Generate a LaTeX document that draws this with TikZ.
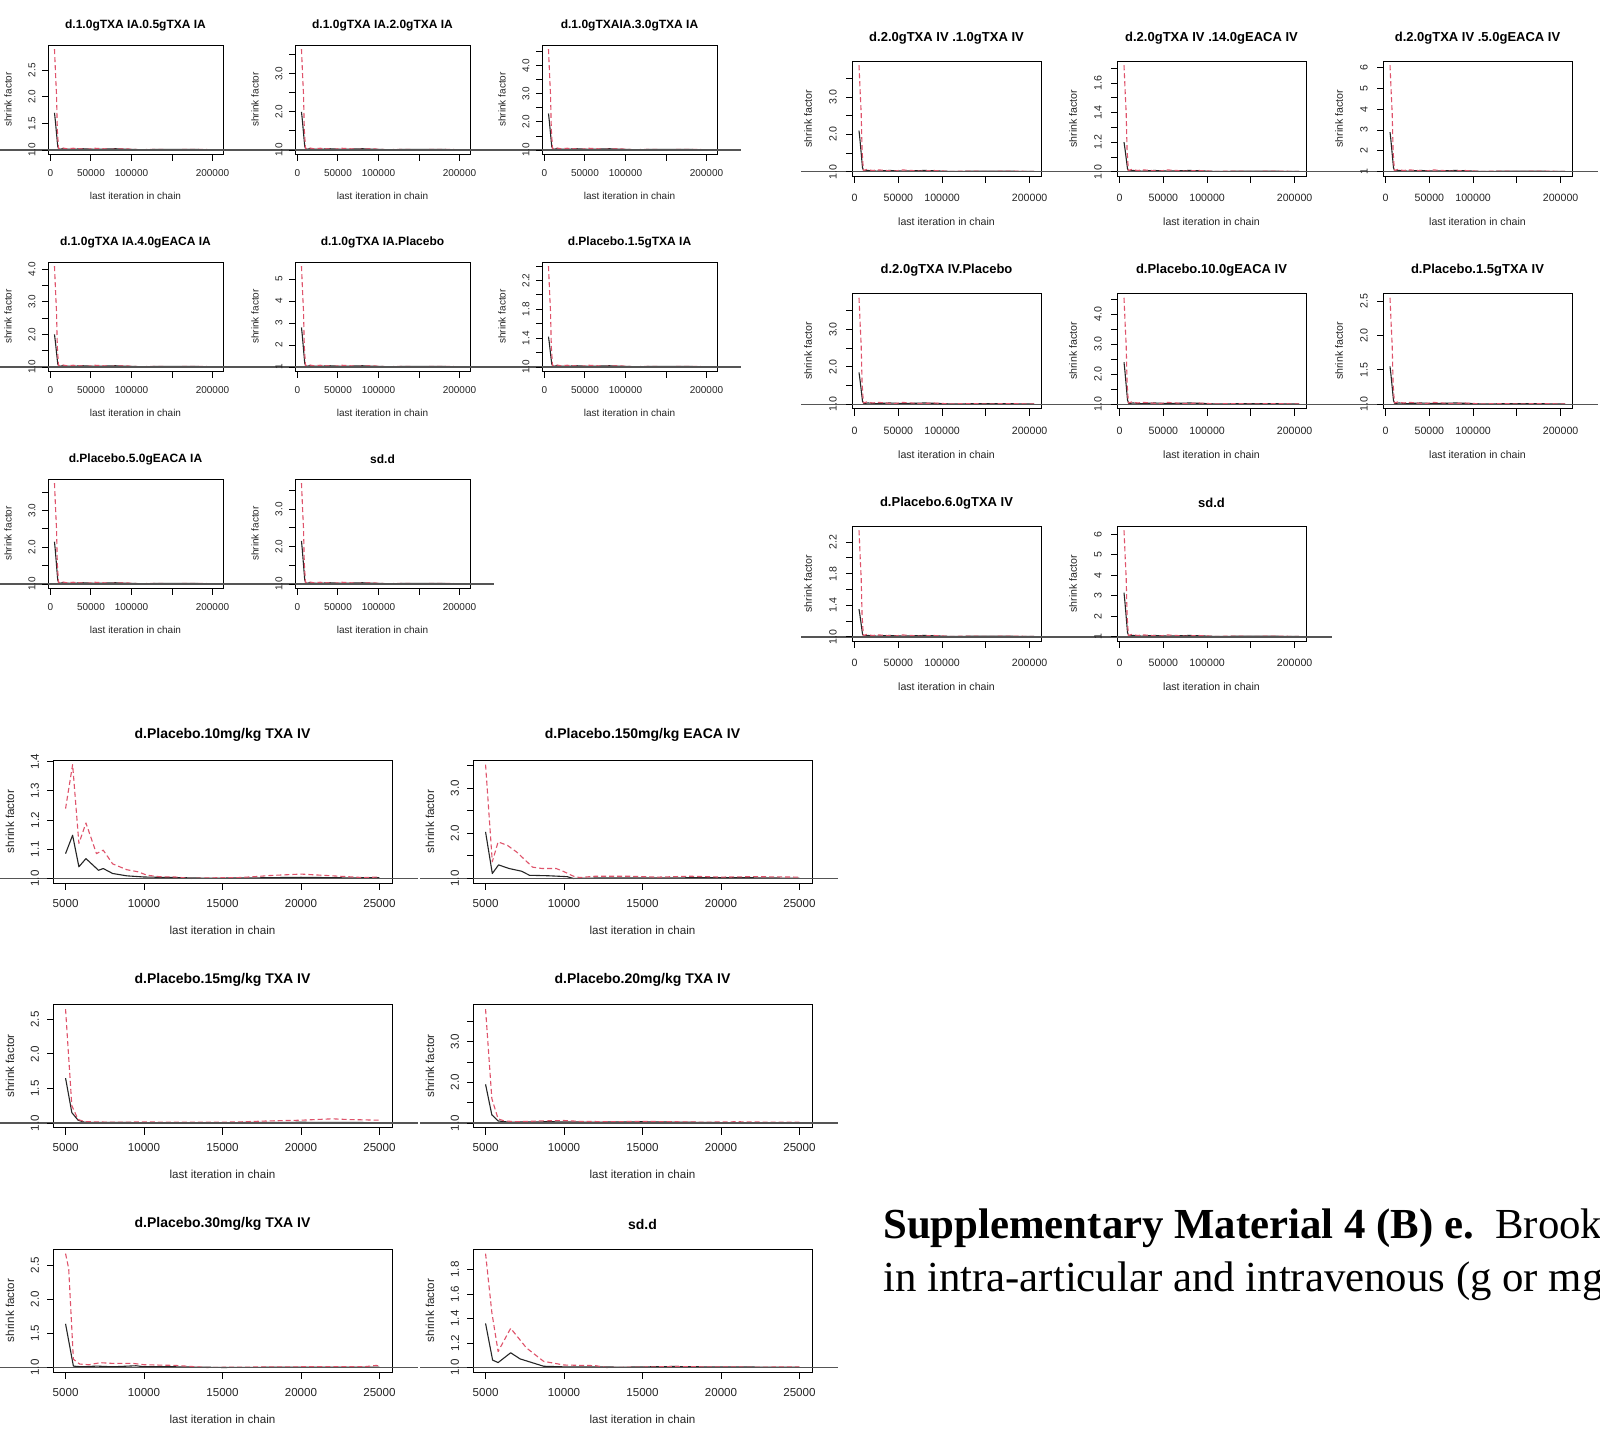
\documentclass[tikz,border=0pt]{standalone}
\usepackage{fontspec}
\setmainfont{Liberation Serif}
\setsansfont{Liberation Sans}
\usetikzlibrary{calc,positioning}
\definecolor{upred}{HTML}{DF536B}
\definecolor{onegray}{HTML}{555555}
\tikzset{
	%Define style for the plot frames
	plotbox/.style={draw=black, line width=1pt, inner sep=0pt, outer sep=0pt, anchor=north west},
	% Define line styles
	oneline/.style={draw=onegray, line width=1.5pt},
	medline/.style={draw=black!85, line width=1.1pt, line join=round},
	upline/.style={draw=upred, line width=1.1pt, line join=round, dash pattern=on 5pt off 3pt},
	tickline/.style={draw=black, line width=0.9pt},
	% Define text styles
	ptitle/.style={font=\sffamily\bfseries\fontsize{\gpTfs}{\gpTfs}\selectfont, inner sep=0pt},
	ticklab/.style={font=\sffamily\fontsize{\gpLfs}{\gpLfs}\selectfont, inner sep=0pt, text=black!85},
	axlab/.style={ticklab},
	captext/.style={font=\fontsize{42.8}{53}\selectfont, anchor=base west, inner sep=0pt}
}
% curves of a fast-converging chain: #1 upper value at start, #2 median at start
\newcommand{\mkcurves}[2]{%
	\pgfmathsetmacro\cvR{#1-1}%
	\pgfmathsetmacro\cvB{#2-1}%
	\pgfmathsetmacro\cvUa{1+0.72*\cvR}%
	\pgfmathsetmacro\cvUb{1+0.55*\cvR}%
	\pgfmathsetmacro\cvUc{1+0.2*\cvR}%
	\pgfmathsetmacro\cvMa{1+0.8*\cvB}%
	\pgfmathsetmacro\cvMb{1+0.45*\cvB}%
	\pgfmathsetmacro\cvMc{1+0.1*\cvB}%
	\pgfmathsetmacro\cvTa{1+0.022*\cvR}%
	\pgfmathsetmacro\cvTb{1+0.012*\cvR}%
	\pgfmathsetmacro\cvTc{1+0.017*\cvR}%
	\pgfmathsetmacro\cvTd{1+0.006*\cvR}%
	\pgfmathsetmacro\cvTe{1+0.003*\cvR}%
	\edef\upc{(5,#1) (6.5,\cvUa) (7.5,\cvUb) (8.5,\cvUc) (10,\cvTb) (14,\cvTa) (20,\cvTb) (28,\cvTc) (36,\cvTb) (45,\cvTd) (55,\cvTc) (65,\cvTb) (75,\cvTd) (90,\cvTb) (110,\cvTe) (130,\cvTd) (150,\cvTe) (175,\cvTd) (205,\cvTe)}%
	\edef\medc{(5,#2) (6,\cvMa) (7.5,\cvMb) (9,\cvMc) (10.5,\cvTd) (15,\cvTb) (25,\cvTd) (40,\cvTb) (55,\cvTd) (80,\cvTb) (110,\cvTe) (150,\cvTd) (205,\cvTe)}%
}
% one shrink factor plot
% #1 name, #2 left, #3 top, #4 y max, #5 title, #6 y ticks, #7 y labels, #8 upper curve, #9 median curve
\newcommand{\gpanel}[9]{%
	\pgfmathsetmacro\gpR{#4-1}%
	\pgfmathsetmacro\gpYs{\gpH/(1.08*\gpR)}%
	\pgfmathsetmacro\gpYo{#3+\gpH-0.04*\gpH/1.08}%
	\pgfmathsetmacro\gpXs{\gpW/(1.08*(\gpXhi-\gpXlo))}%
	\pgfmathsetmacro\gpXo{#2+\gpXs*(0.04*(\gpXhi-\gpXlo)-\gpXlo)}%
	% frame
	\node[plotbox, minimum width=\gpW pt, minimum height=\gpH pt] (#1) at (#2,#3) {};
	% curves
	\begin{scope}[shift={(\gpXo,\gpYo+\gpYs)}, xscale=\gpXs, yscale=-\gpYs]
		\edef\gpTmp{\noexpand\draw[medline] plot coordinates {#9};}\gpTmp
		\edef\gpTmp{\noexpand\draw[upline] plot coordinates {#8};}\gpTmp
	\end{scope}
	% line at 1
	\coordinate (#1-l) at (#2-\gpPadL,\gpYo);
	\coordinate (#1-r) at (#2-\gpPadL+\gpPadW,\gpYo);
	\draw[oneline] (#1-l) -- (#1-r);
	% axes
	\foreach \k in \gpXtk {\pgfmathsetmacro\gpPx{\gpXo+\gpXs*\k}\draw[tickline] (\gpPx,#3+\gpH) -- ++(0,7);}
	\foreach \k/\lab in \gpXtl {\pgfmathsetmacro\gpPx{\gpXo+\gpXs*\k}\node[ticklab] (#1-x\k) at (\gpPx,#3+\gpH+\gpXtd) {\lab};}
	\foreach \v in {#6} {\pgfmathsetmacro\gpPy{\gpYo-\gpYs*(\v-1)}\draw[tickline] (#2,\gpPy) -- ++(-6,0);}
	\foreach \v/\lab [count=\i] in {#7} {\pgfmathsetmacro\gpPy{\gpYo-\gpYs*(\v-1)}\node[ticklab, rotate=90] (#1-y\i) at (#2-\gpYtd,\gpPy) {\lab};}
	% labels
	\node[ptitle] (#1-t) at ($(#1.north)+(0,-\gpTd)$) {#5};
	\node[axlab] (#1-xl) at ($(#1.south)+(0,\gpXld)$) {last iteration in chain};
	\node[axlab, rotate=90] (#1-yl) at ($(#1.west)+(-\gpYld,0)$) {shrink factor};
}
\newcommand{\spanel}[8]{\mkcurves{#4}{#5}\gpanel{#1}{#2}{#3}{#4}{#6}{#7}{#8}{\upc}{\medc}}

\begin{document}
\begin{tikzpicture}[x=1pt, y=-1pt]
	\useasboundingbox (0,0) rectangle (1600,1428);
	\fill[white] (0,0) rectangle (1600,1428);
	% intra-articular plots
	\def\gpW{175}\def\gpH{109}\def\gpXlo{5}\def\gpXhi{205}
	\def\gpPadL{48}\def\gpPadW{247}\def\gpTfs{12}\def\gpLfs{10}
	\def\gpTd{20}\def\gpXtd{19}\def\gpXld{42}\def\gpYtd{16}\def\gpYld{40}
	\def\gpXtk{0,50,100,150,200}\def\gpXtl{0/0,50/50000,100/100000,200/200000}
	\spanel{a1}{48}{45}{2.9}{1.7}{d.1.0gTXA IA.0.5gTXA IA}{1.0,1.5,2.0,2.5}{1.0/1.0,1.5/1.5,2.0/2.0,2.5/2.5}
	\spanel{a2}{295}{45}{3.65}{2.0}{d.1.0gTXA IA.2.0gTXA IA}{1.0,1.5,2.0,2.5,3.0,3.5}{1.0/1.0,2.0/2.0,3.0/3.0}
	\spanel{a3}{542}{45}{4.6}{2.3}{d.1.0gTXAIA.3.0gTXA IA}{1.0,1.5,2.0,2.5,3.0,3.5,4.0,4.5}{1.0/1.0,2.0/2.0,3.0/3.0,4.0/4.0}
	\spanel{a4}{48}{262}{4.1}{2.0}{d.1.0gTXA IA.4.0gEACA IA}{1.0,1.5,2.0,2.5,3.0,3.5,4.0}{1.0/1.0,2.0/2.0,3.0/3.0,4.0/4.0}
	\spanel{a5}{295}{262}{5.6}{2.8}{d.1.0gTXA IA.Placebo}{1,2,3,4,5}{1/1,2/2,3/3,4/4,5/5}
	\spanel{a6}{542}{262}{2.4}{1.42}{d.Placebo.1.5gTXA IA}{1.0,1.2,1.4,1.6,1.8,2.0,2.2,2.4}{1.0/1.0,1.4/1.4,1.8/1.8,2.2/2.2}
	\spanel{a7}{48}{479}{3.75}{2.15}{d.Placebo.5.0gEACA IA}{1.0,1.5,2.0,2.5,3.0,3.5}{1.0/1.0,2.0/2.0,3.0/3.0}
	\spanel{a8}{295}{479}{3.7}{2.15}{sd.d}{1.0,1.5,2.0,2.5,3.0,3.5}{1.0/1.0,2.0/2.0,3.0/3.0}
	% intravenous plots (g)
	\def\gpW{189}\def\gpH{115}
	\def\gpPadL{51}\def\gpPadW{266}\def\gpTfs{13}\def\gpLfs{10.6}
	\def\gpTd{23}\def\gpXtd{22}\def\gpXld{46}\def\gpYtd{19}\def\gpYld{44}
	\spanel{b1}{852}{61}{3.85}{2.1}{d.2.0gTXA IV .1.0gTXA IV}{1.0,1.5,2.0,2.5,3.0,3.5}{1.0/1.0,2.0/2.0,3.0/3.0}
	\spanel{b2}{1117}{61}{1.72}{1.2}{d.2.0gTXA IV .14.0gEACA IV}{1.0,1.1,1.2,1.3,1.4,1.5,1.6,1.7}{1.0/1.0,1.2/1.2,1.4/1.4,1.6/1.6}
	\spanel{b3}{1383}{61}{6.1}{2.9}{d.2.0gTXA IV .5.0gEACA IV}{1,2,3,4,5,6}{1/1,2/2,3/3,4/4,5/5,6/6}
	\spanel{b4}{852}{293.5}{3.85}{1.85}{d.2.0gTXA IV.Placebo}{1.0,1.5,2.0,2.5,3.0,3.5}{1.0/1.0,2.0/2.0,3.0/3.0}
	\spanel{b5}{1117}{293.5}{4.55}{2.4}{d.Placebo.10.0gEACA IV}{1.0,1.5,2.0,2.5,3.0,3.5,4.0,4.5}{1.0/1.0,2.0/2.0,3.0/3.0,4.0/4.0}
	\spanel{b6}{1383}{293.5}{2.55}{1.55}{d.Placebo.1.5gTXA IV}{1.0,1.5,2.0,2.5}{1.0/1.0,1.5/1.5,2.0/2.0,2.5/2.5}
	\spanel{b7}{852}{526}{2.35}{1.35}{d.Placebo.6.0gTXA IV}{1.0,1.2,1.4,1.6,1.8,2.0,2.2}{1.0/1.0,1.4/1.4,1.8/1.8,2.2/2.2}
	\spanel{b8}{1117}{526}{6.2}{3.15}{sd.d}{1,2,3,4,5,6}{1/1,2/2,3/3,4/4,5/5,6/6}
	% intravenous plots (mg/kg)
	\def\gpW{339}\def\gpH{123}\def\gpXlo{5}\def\gpXhi{25}
	\def\gpPadL{53}\def\gpPadW{418}\def\gpTfs{14}\def\gpLfs{11.6}
	\def\gpTd{25}\def\gpXtd{20}\def\gpXld{47}\def\gpYtd{18}\def\gpYld{43}
	\def\gpXtk{5,10,15,20,25}\def\gpXtl{5/5000,10/10000,15/15000,20/20000,25/25000}
	\gpanel{c1}{53}{760}{1.39}{d.Placebo.10mg/kg TXA IV}{1.0,1.1,1.2,1.3,1.4}{1.0/1.0,1.1/1.1,1.2/1.2,1.3/1.3,1.4/1.4}
		{(5,1.239) (5.45,1.39) (5.85,1.12) (6.3,1.19) (6.97,1.085) (7.4,1.097) (8,1.05) (8.9,1.03) (9.6,1.023) (10.2,1.011) (11,1.006) (12,1.005) (13,1.0) (14,1.002) (16,1.003) (17,1.006) (18,1.01) (20,1.015) (21,1.012) (23,1.006) (24,1.003) (25,1.005)}
		{(5,1.085) (5.45,1.148) (5.85,1.04) (6.3,1.068) (7.1,1.028) (7.4,1.034) (8,1.017) (8.9,1.009) (10,1.005) (12,1.003) (14,1.001) (17,1.002) (20,1.004) (23,1.002) (25,1.003)}
	\gpanel{c2}{473}{760}{3.52}{d.Placebo.150mg/kg EACA IV}{1.0,1.5,2.0,2.5,3.0,3.5}{1.0/1.0,2.0/2.0,3.0/3.0}
		{(5,3.52) (5.43,1.37) (5.8,1.81) (6.4,1.73) (7,1.58) (8,1.25) (8.6,1.22) (9.5,1.22) (10,1.15) (10.6,1.05) (11,1.02) (12,1.05) (14,1.05) (16,1.03) (18,1.05) (20,1.03) (22,1.04) (25,1.03)}
		{(5,2.03) (5.43,1.11) (5.83,1.3) (6.5,1.22) (7.3,1.16) (7.8,1.07) (9,1.06) (10.2,1.04) (10.6,1.0) (12,1.01) (14,1.01) (18,1.015) (22,1.015) (25,1.005)}
	\gpanel{c3}{53}{1004.5}{2.65}{d.Placebo.15mg/kg TXA IV}{1.0,1.5,2.0,2.5}{1.0/1.0,1.5/1.5,2.0/2.0,2.5/2.5}
		{(5,2.65) (5.4,1.25) (5.8,1.05) (6.2,1.02) (8,1.01) (10,1.015) (12,1.01) (14,1.01) (16,1.015) (18,1.03) (20,1.04) (22,1.06) (23,1.05) (25,1.04)}
		{(5,1.65) (5.4,1.15) (5.8,1.04) (6.2,1.01) (10,1.005) (15,1.005) (20,1.01) (25,1.005)}
	\gpanel{c4}{473}{1004.5}{3.8}{d.Placebo.20mg/kg TXA IV}{1.0,1.5,2.0,2.5,3.0,3.5}{1.0/1.0,2.0/2.0,3.0/3.0}
		{(5,3.8) (5.4,1.6) (5.8,1.1) (6.2,1.05) (7,1.03) (8.5,1.05) (10,1.06) (11,1.04) (13,1.03) (15,1.04) (17,1.03) (19,1.02) (21,1.03) (23,1.02) (25,1.02)}
		{(5,1.95) (5.4,1.2) (5.8,1.05) (6.5,1.02) (9,1.03) (12,1.02) (15,1.03) (20,1.01) (25,1.01)}
	\gpanel{c5}{53}{1249}{2.67}{d.Placebo.30mg/kg TXA IV}{1.0,1.5,2.0,2.5}{1.0/1.0,1.5/1.5,2.0/2.0,2.5/2.5}
		{(5,2.67) (5.2,2.45) (5.5,1.12) (5.9,1.05) (6.5,1.04) (7.2,1.07) (8,1.06) (9.3,1.06) (10,1.04) (12,1.03) (14,1.0) (16,1.005) (20,1.01) (24,1.01) (24.8,1.03) (25,1.02)}
		{(5,1.64) (5.5,1.02) (6,1.01) (7,1.02) (8,1.01) (9.5,1.025) (10,1.01) (12,1.01) (15,1.0) (20,1.005) (25,1.005)}
	\gpanel{c6}{473}{1249}{1.93}{sd.d}{1.0,1.2,1.4,1.6,1.8}{1.0/1.0,1.2/1.2,1.4/1.4,1.6/1.6,1.8/1.8}
		{(5,1.93) (5.4,1.45) (5.8,1.13) (6.6,1.32) (7.6,1.16) (8.7,1.05) (10,1.02) (12,1.015) (12.7,1.0) (15,1.003) (17,1.008) (19,1.005) (22,1.003) (25,1.004)}
		{(5,1.36) (5.45,1.06) (5.8,1.04) (6.6,1.12) (7.2,1.07) (8.7,1.01) (10,1.005) (14,1.003) (17,1.008) (19,1.005) (25,1.002)}
	% caption
	\node[captext] (cap1) at (883,1238) {\textbf{Supplementary Material 4 (B) e.}~~Brook};
	\node[captext] (cap2) at ($(cap1.base west)+(0,53)$) {in intra-articular and intravenous (g or mg};
\end{tikzpicture}
\end{document}
